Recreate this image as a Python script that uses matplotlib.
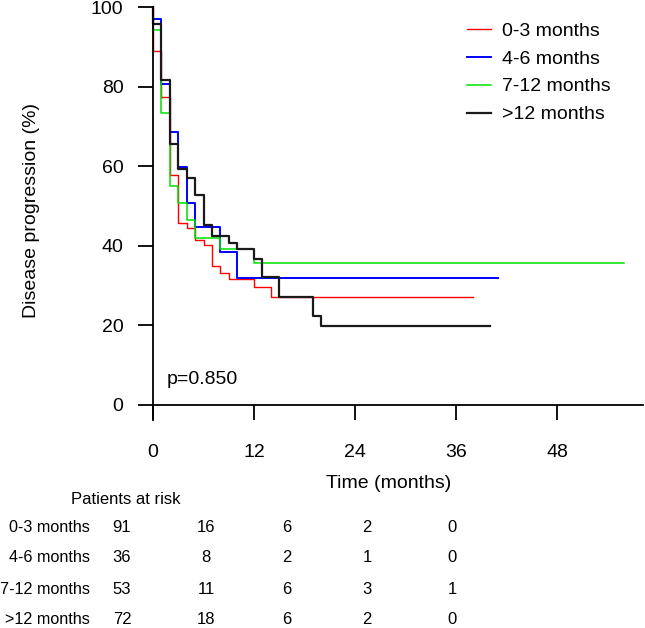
import numpy as np
import matplotlib
matplotlib.use('Agg')
import matplotlib.pyplot as plt

# Kaplan-Meier style step data (time in months, % without progression)
groups = ['0-3 months', '4-6 months', '7-12 months', '>12 months']
colors = ['#ff0000', '#0000ff', '#00e000', '#1a1a1a']
widths = [1.0, 1.4, 1.1, 1.6]

red_t = [0, 1, 2, 3, 4, 5, 6, 7, 8, 9, 12, 14]
red_s = [89.0, 77.5, 57.8, 45.7, 44.4, 41.5, 40.2, 34.8, 33.1, 31.6, 29.6, 27.2]
red_end = 38

blue_t = [0, 1, 2, 3, 4, 5, 8, 10]
blue_s = [97.0, 80.6, 68.5, 59.9, 50.8, 44.8, 38.5, 32.0]
blue_end = 41

green_t = [0, 1, 2, 3, 4, 5, 8, 12]
green_s = [94.2, 73.4, 55.0, 50.7, 46.5, 41.9, 39.2, 35.6]
green_end = 56

black_t = [0, 1, 2, 3, 4, 5, 6, 7, 9, 10, 12, 13, 15, 19, 20]
black_s = [95.7, 81.7, 65.7, 59.3, 57.0, 52.8, 45.2, 42.4, 40.8, 39.2, 36.8, 32.2, 27.2, 22.4, 19.9]
black_end = 40

curves = [(red_t, red_s, red_end), (blue_t, blue_s, blue_end),
          (green_t, green_s, green_end), (black_t, black_s, black_end)]

# patients at risk
risk_cols = [122, 206, 287, 367, 452]  # pixel centres of the table columns
risk_0_3 = [91, 16, 6, 2, 0]
risk_4_6 = [36, 8, 2, 1, 0]
risk_7_12 = [53, 11, 6, 3, 1]
risk_12 = [72, 18, 6, 2, 0]
risk_rows = [risk_0_3, risk_4_6, risk_7_12, risk_12]

plt.rcParams['font.family'] = ['Liberation Sans', 'DejaVu Sans']

W, H = 645, 628
fig = plt.figure(figsize=(W / 100, H / 100), dpi=100)
ax = fig.add_axes([153 / W, 1 - 420 / H, 490 / W, 413 / H])

for (t, s, end), c, lw, name in zip(curves, colors, widths, groups):
    xs = [0] + t + [end]
    ys = [100] + s + [s[-1]]
    ax.step(xs, ys, where='post', color=c, lw=lw, label=name, clip_on=False)

ax.set_xlim(0, 58.2)
ax.set_ylim(-3.77, 100)
ax.spines['top'].set_visible(False)
ax.spines['right'].set_visible(False)
ax.spines['bottom'].set_position(('data', 0))
for sp in ['left', 'bottom']:
    ax.spines[sp].set_linewidth(1.3)

ax.set_xticks([0, 12, 24, 36, 48])
ax.set_yticks([0, 20, 40, 60, 80, 100])
ax.tick_params(axis='both', direction='out', length=10.8, width=1.3, labelsize=14)
ax.tick_params(axis='y', pad=10.5)
ax.tick_params(axis='x', pad=17)

fig.text(32 / W, 1 - 211 / H, 'Disease progression (%)', fontsize=14,
         rotation=90, ha='center', va='center')
fig.text(389 / W, 1 - 483 / H, 'Time (months)', fontsize=14, ha='center', va='center')
ax.text(1.66, 6.5, 'p=0.850', fontsize=14, va='center')

ax.legend(loc='upper left', bbox_to_anchor=((467 - 153) / 490, 1 - 15 / 413),
          frameon=False, fontsize=14, handlelength=1.24, handletextpad=0.55,
          labelspacing=0.53, borderaxespad=0, borderpad=0)

# at-risk table
fig.text(71 / W, 1 - 499 / H, 'Patients at risk', fontsize=12, va='center')
row_y = [528, 558, 589, 620]
for name, vals, y in zip(groups, risk_rows, row_y):
    fig.text(90 / W, 1 - y / H, name, fontsize=11.6, ha='right', va='center')
    for v, x in zip(vals, risk_cols):
        fig.text(x / W, 1 - y / H, str(v), fontsize=12, ha='center', va='center')

fig.savefig('out.png', dpi=100)
